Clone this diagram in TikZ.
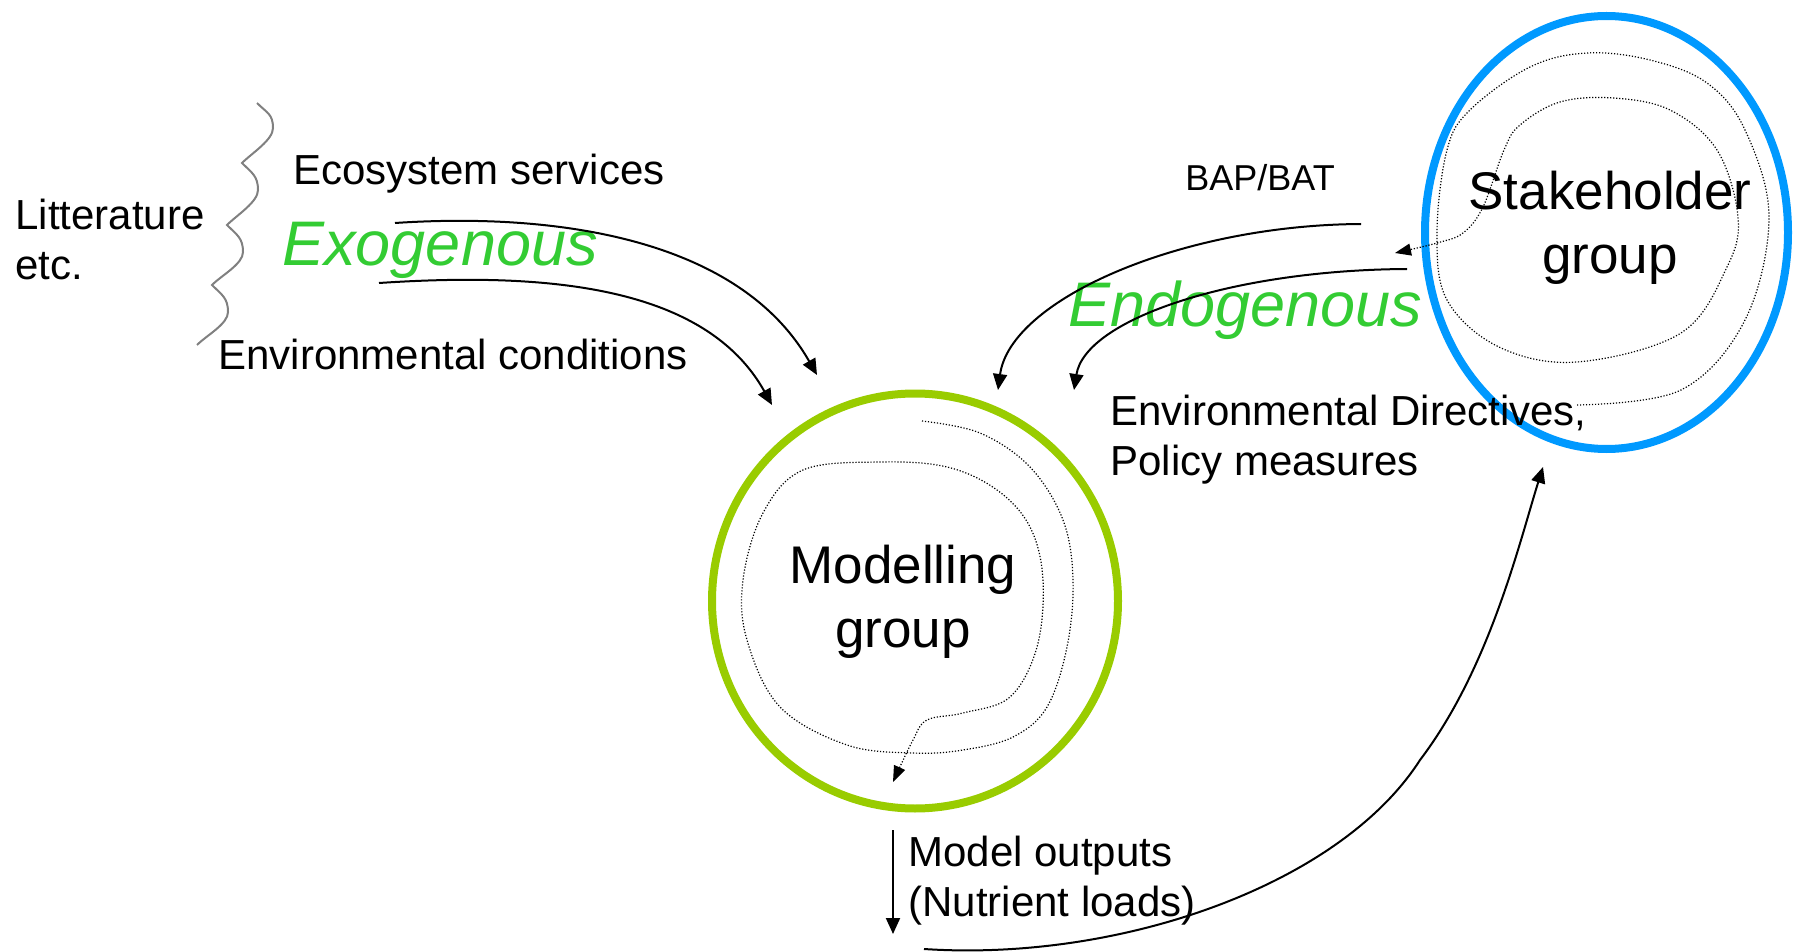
\documentclass[tikz,border=0pt]{standalone}
\usepackage{fontspec}
\setmainfont{Liberation Sans}
\usetikzlibrary{arrows.meta,shapes.geometric}
\definecolor{bblue}{RGB}{0,153,255}
\definecolor{lgreen}{RGB}{153,204,0}
\definecolor{tgreen}{RGB}{51,204,51}
\tikzset{
  arr/.style={line width=1pt, -{Triangle[length=8pt,width=7pt]}},
  dotarr/.style={line width=0.6pt, dash pattern=on 0.6pt off 0.9pt, -{Triangle[length=8pt,width=6pt]}},
  lbl/.style={inner sep=0pt, font=\fontsize{21}{25}\selectfont},
  small/.style={inner sep=0pt, font=\fontsize{18}{22}\selectfont},
  genous/.style={inner sep=0pt, font=\fontsize{31.5}{36}\selectfont\itshape, text=tgreen},
  grp/.style={inner sep=0pt, font=\fontsize{26.5}{32}\selectfont},
  ring/.style={ellipse, line width=4pt, inner sep=0pt},
  wave/.style={line width=1pt, draw=gray},
}
\begin{document}
\begin{tikzpicture}[x=0.5pt,y=-0.5pt]
\useasboundingbox (0,0) rectangle (1794,952);

% groups
\node[ring, draw=lgreen, minimum width=203pt, minimum height=207.5pt] (model) at (915,601) {};
\node[ring, draw=bblue, minimum width=181.5pt, minimum height=216.5pt] (stake) at (1606.5,232.5) {};

\node[grp, anchor=base] (modeltxt) at (903,583) {\begin{tabular}[t]{@{}c@{}}Modelling\\group\end{tabular}};
\node[grp, anchor=base] (staketxt) at (1610,210) {\begin{tabular}[t]{@{}c@{}}Stakeholder\\group\end{tabular}};

% labels
\node[lbl, anchor=base west] (lit) at (15,230) {\begin{tabular}[t]{@{}l@{}}Litterature\\etc.\end{tabular}};
\node[lbl, anchor=base west] (eco) at (293,185) {Ecosystem services};
\node[genous, anchor=base west] (exo) at (282,266) {Exogenous};
\node[lbl, anchor=base west] (envc) at (218,369) {Environmental conditions};
\node[small, anchor=base west] (bap) at (1185,191) {BAP/BAT};
\node[genous, anchor=base west] (endo) at (1068,327) {Endogenous};
\node[lbl, anchor=base west] (envd) at (1110,425) {\begin{tabular}[t]{@{}l@{}}Environmental Directives,\\Policy measures\end{tabular}};
\node[lbl, anchor=base west] (mout) at (908,866) {\begin{tabular}[t]{@{}l@{}}Model outputs\\(Nutrient loads)\end{tabular}};

% wavy brace
\coordinate (k1) at (257,103);
\coordinate (b1) at (273,128);
\coordinate (k2) at (242,163);
\coordinate (b2) at (258,190);
\coordinate (k3) at (227,225);
\coordinate (b3) at (243,252);
\coordinate (k4) at (212,285);
\coordinate (b4) at (228,312);
\coordinate (k5) at (197,345);
\draw[wave] (k1) .. controls +(10,10) and +(0,-14) .. (b1)
  .. controls +(0,12) and +(10,-10) .. (k2)
  .. controls +(10,10) and +(0,-14) .. (b2)
  .. controls +(0,12) and +(10,-10) .. (k3)
  .. controls +(10,10) and +(0,-14) .. (b3)
  .. controls +(0,12) and +(10,-10) .. (k4)
  .. controls +(10,10) and +(0,-14) .. (b4)
  .. controls +(0,12) and +(10,-10) .. (k5);

% exogenous arrows
\coordinate (exAs) at (395,223);
\coordinate (exAe) at (817,375);
\coordinate (exBs) at (379,283);
\coordinate (exBe) at (772,405);
\draw[arr] (exAs) .. controls (560,212) and (740,240) .. (exAe);
\draw[arr] (exBs) .. controls (545,272) and (705,285) .. (exBe);

% endogenous arrows
\coordinate (enCs) at (1361,224);
\coordinate (enCe) at (998,390);
\coordinate (enDs) at (1407,269);
\coordinate (enDe) at (1074,390);
\draw[arr] (enCs) .. controls (1180,225) and (1010,300) .. (enCe);
\draw[arr] (enDs) .. controls (1230,270) and (1085,320) .. (enDe);

% model outputs
\coordinate (voS) at (893,830);
\coordinate (voE) at (893,934);
\draw[arr] (voS) -- (voE);

\coordinate (outS) at (924,949);
\coordinate (outM) at (1420,760);
\coordinate (outE) at (1543,467);
\draw[arr] (outS) .. controls (1120,962) and (1340,885) .. (outM)
  .. controls (1490,668) and (1520,540) .. (outE);

% spirals
\draw[dotarr] plot[smooth, tension=0.6] coordinates {
 (1577,405) (1681,390) (1745,320) (1769,217) (1745,130) (1707,83) (1650,60) (1587,53) (1530,67)
 (1470,110) (1447,150) (1437,233) (1447,300) (1499,347) (1577,362) (1681,333) (1727,267)
 (1738,217) (1717,150) (1670,110) (1613,98) (1560,102) (1520,125) (1504,150) (1483,207)
 (1463,233) (1437,243) (1395,253)};

\draw[dotarr] plot[smooth, tension=0.6] coordinates {
 (922,421) (980,433) (1030,467) (1063,520) (1073,580) (1067,647) (1047,707) (1013,737)
 (963,750) (913,753) (847,745) (780,707) (747,640) (743,580) (763,513) (803,470) (880,462)
 (947,467) (997,490) (1030,527) (1043,580) (1037,647) (1010,697) (963,713) (927,720)
 (913,740) (893,782)};
\end{tikzpicture}
\end{document}
